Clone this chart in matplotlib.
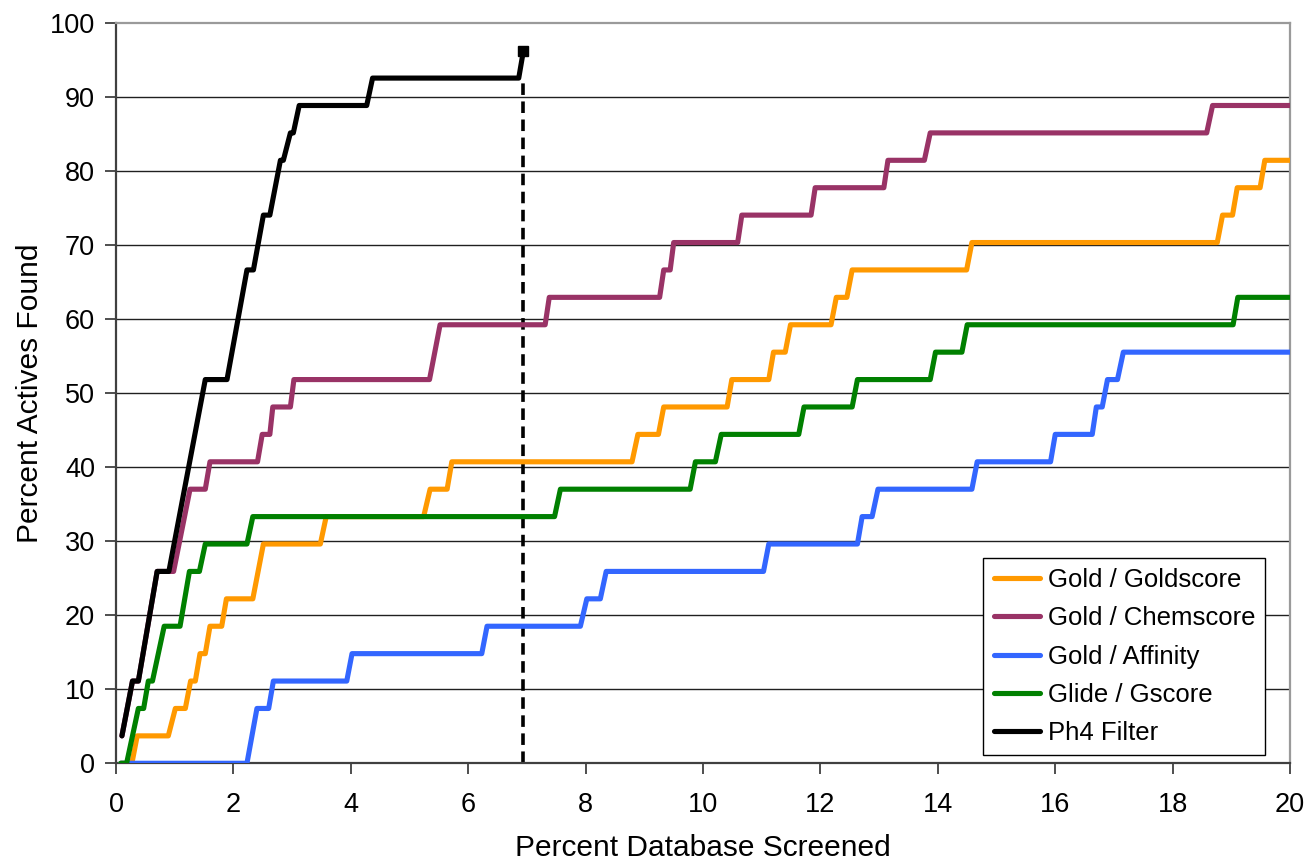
import numpy as np
import matplotlib
matplotlib.use('Agg')
import matplotlib.pyplot as plt

plt.rcParams['font.family'] = ['Liberation Sans', 'DejaVu Sans']

n_actives = 27

# vertices of each enrichment curve: x = percent database screened, k = actives found
gold_x = [0.08, 0.27, 0.36, 0.89, 1.01, 1.18, 1.27, 1.35, 1.43, 1.52, 1.60, 1.80, 1.88, 2.33, 2.51,
          3.48, 3.58, 5.24, 5.35, 5.64, 5.72, 8.79, 8.89, 9.24, 9.33, 10.41, 10.49, 11.12, 11.20,
          11.40, 11.49, 12.18, 12.27, 12.45, 12.54, 14.49, 14.58, 18.76, 18.85, 19.02, 19.10,
          19.49, 19.57, 20.0]
gold_k = [0, 0, 1, 1, 2, 2, 3, 3, 4, 4, 5, 5, 6, 6, 8, 8, 9, 9, 10, 10, 11, 11, 12, 12, 13, 13,
          14, 14, 15, 15, 16, 16, 17, 17, 18, 18, 19, 19, 20, 20, 21, 21, 22, 22]

chem_x = [0.10, 0.28, 0.38, 0.70, 0.98, 1.26, 1.52, 1.60, 2.41, 2.49, 2.62, 2.67, 2.97, 3.03,
          5.34, 5.52, 7.31, 7.38, 9.26, 9.33, 9.44, 9.50, 10.59, 10.66, 11.84, 11.91, 13.08,
          13.15, 13.77, 13.87, 18.58, 18.68, 20.0]
chem_k = [1, 3, 3, 7, 7, 10, 10, 11, 11, 12, 12, 13, 13, 14, 14, 16, 16, 17, 17, 18, 18, 19,
          19, 20, 20, 21, 21, 22, 22, 23, 23, 24, 24]

aff_x = [0.08, 2.23, 2.40, 2.60, 2.68, 3.93, 4.02, 6.23, 6.32, 7.91, 8.02, 8.25, 8.35, 11.03,
         11.12, 12.63, 12.71, 12.88, 12.98, 14.58, 14.67, 15.92, 16.00, 16.63, 16.70, 16.80,
         16.89, 17.06, 17.16, 20.0]
aff_k = [0, 0, 2, 2, 3, 3, 4, 4, 5, 5, 6, 6, 7, 7, 8, 8, 9, 9, 10, 10, 11, 11, 12, 12, 13, 13,
         14, 14, 15, 15]

glide_x = [0.08, 0.18, 0.38, 0.47, 0.55, 0.62, 0.82, 1.09, 1.25, 1.42, 1.52, 2.23, 2.33, 7.47,
           7.57, 9.78, 9.87, 10.21, 10.31, 11.63, 11.72, 12.54, 12.63, 13.87, 13.96, 14.41,
           14.50, 19.03, 19.11, 20.0]
glide_k = [0, 0, 2, 2, 3, 3, 5, 5, 7, 7, 8, 8, 9, 9, 10, 10, 11, 11, 12, 12, 13, 13, 14, 14,
           15, 15, 16, 16, 17, 17]

ph4_x = [0.10, 0.28, 0.38, 0.70, 0.90, 1.52, 1.89, 2.23, 2.34, 2.51, 2.62, 2.80, 2.85, 2.97,
         3.02, 3.12, 4.27, 4.37, 6.86, 6.94]
ph4_k = [1, 3, 3, 7, 7, 14, 14, 18, 18, 20, 20, 22, 22, 23, 23, 24, 24, 25, 25, 26]

ph4_cutoff = 6.93

series = [
    ('Gold / Goldscore', gold_x, gold_k, '#FF9900'),
    ('Gold / Chemscore', chem_x, chem_k, '#993366'),
    ('Gold / Affinity', aff_x, aff_k, '#3366FF'),
    ('Glide / Gscore', glide_x, glide_k, '#008000'),
    ('Ph4 Filter', ph4_x, ph4_k, '#000000'),
]

fig = plt.figure(figsize=(13.04, 8.65), dpi=100)
ax = fig.add_axes([0.089, 0.1176, 0.9003, 0.8555])

for i in range(10, 100, 10):
    ax.axhline(i, color='#202020', lw=1.0, zorder=1)

ax.plot([ph4_cutoff, ph4_cutoff], [0, 92.6], color='black', lw=2.6,
        dashes=(3.2, 1.8), zorder=2)

for name, xs, ks, col in series:
    ys = np.array(ks) * 100.0 / n_actives
    ax.plot(xs, ys, color=col, lw=3.7, label=name, solid_joinstyle='round',
            solid_capstyle='round', zorder=3)

ax.plot(ph4_x[-1], np.array(ph4_k[-1]) * 100.0 / n_actives, 's', color='black',
        ms=7, zorder=4, clip_on=False)

ax.set_xlim(0, 20)
ax.set_ylim(0, 100)
ax.set_xticks(np.arange(0, 21, 2))
ax.set_yticks(np.arange(0, 101, 10))
ax.tick_params(axis='both', direction='out', length=8, width=1.2, color='#303030',
               labelsize=19.5, pad=7)
ax.tick_params(axis='x', pad=13)

for s in ['left', 'bottom']:
    ax.spines[s].set_color('#404040')
    ax.spines[s].set_linewidth(1.6)
for s in ['top', 'right']:
    ax.spines[s].set_color('#9a9a9a')
    ax.spines[s].set_linewidth(1.6)

ax.set_xlabel('Percent Database Screened', fontsize=21.5, va='center', ha='center')
ax.set_ylabel('Percent Actives Found', fontsize=21.5, va='center', ha='center')
ax.xaxis.set_label_coords(0.5, -0.115)
ax.yaxis.set_label_coords(-0.073, 0.5)

leg = ax.legend(loc='lower right', bbox_to_anchor=(0.979, 0.011), fontsize=18.5,
                frameon=True, fancybox=False, framealpha=1, edgecolor='black',
                handlelength=1.8, handletextpad=0.3, labelspacing=0.55,
                borderpad=0.4, borderaxespad=0)
leg.get_frame().set_linewidth(1.0)

fig.savefig('out.png', dpi=100)
